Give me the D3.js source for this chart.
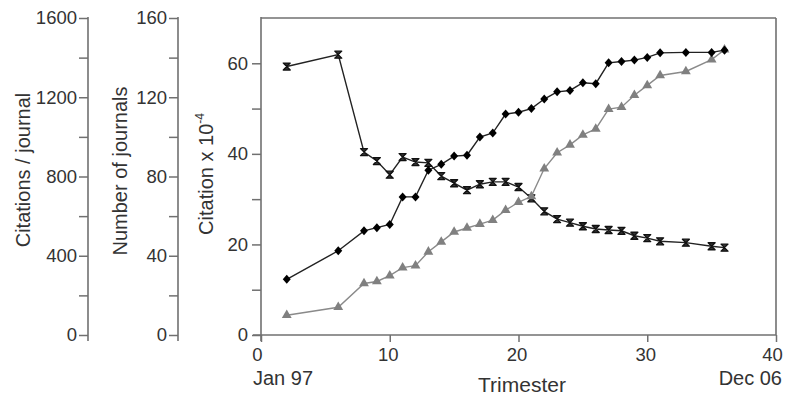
<!DOCTYPE html>
<html>
<head>
<meta charset="utf-8">
<script src="https://cdn.jsdelivr.net/npm/d3@7"></script>
<style>
  body { margin: 0; background: #fff; }
  text { font-family: "Liberation Sans", Arial, sans-serif; fill: #333; }
</style>
</head>
<body>
<div id="chart"></div>
<script>
var width = 785;
var height = 396;

// trimester index, Jan 97 .. Dec 06
var trimesters = [2, 6, 8, 9, 10, 11, 12, 13, 14, 15, 16, 17, 18, 19, 20, 21, 22, 23, 24, 25, 26, 27, 28, 29, 30, 31, 33, 35, 36];
// citation x 10^-4 (diamonds)
var citations = [12.3, 18.6, 23.0, 23.7, 24.4, 30.5, 30.5, 36.4, 37.7, 39.5, 39.7, 43.7, 44.6, 48.8, 49.2, 50.0, 52.1, 53.7, 54.0, 55.7, 55.5, 60.1, 60.4, 60.7, 61.3, 62.3, 62.4, 62.4, 62.9];
// number of journals (triangles)
var journals = [10, 14, 26, 27, 30, 34, 35, 42, 47, 52, 54, 56, 58, 63, 67, 70, 84, 92, 96, 101, 104, 114, 115, 121, 126, 131, 133, 139, 144];
// citations / journal (crosses)
var perJournal = [1355, 1415, 923, 878, 809, 898, 873, 869, 802, 766, 731, 761, 773, 773, 747, 690, 624, 585, 567, 549, 535, 530, 526, 501, 489, 473, 466, 448, 441];

var xTicks = [0, 10, 20, 30, 40];
var citTicks = [0, 10, 20, 30, 40, 50, 60];
var jourTicks = [0, 20, 40, 60, 80, 100, 120, 140, 160];
var cpjTicks = [0, 200, 400, 600, 800, 1000, 1200, 1400, 1600];

var axisColor = "#707070";

var svg = d3.select("#chart")
            .append("svg")
            .attr("width", width)
            .attr("height", height);

var x = d3.scaleLinear().domain([0, 40]).range([261, 776]);
var yCit = d3.scaleLinear().domain([0, 70]).range([335, 18]);
var yJour = d3.scaleLinear().domain([0, 160]).range([335, 18]);
var yCpj = d3.scaleLinear().domain([0, 1600]).range([335, 18]);

function styleAxis(g) {
  g.select(".domain").remove();
  g.selectAll(".tick line").attr("stroke", axisColor).attr("stroke-width", 1.5);
  g.selectAll(".tick text").style("font-size", "18.5px").style("font-family", "Liberation Sans, Arial, sans-serif").attr("fill", "#333");
}

function vline(xp) {
  svg.append("line").attr("x1", xp).attr("x2", xp).attr("y1", 17).attr("y2", 341)
     .attr("stroke", axisColor).attr("stroke-width", 1.6);
}

// left axes
svg.append("g").attr("transform", "translate(88,0)")
   .call(d3.axisLeft(yCpj).tickValues(cpjTicks).tickSize(9).tickPadding(2)
         .tickFormat(function(d){ return d % 400 === 0 ? d : ""; }))
   .call(styleAxis);
vline(88);

svg.append("g").attr("transform", "translate(178,0)")
   .call(d3.axisLeft(yJour).tickValues(jourTicks).tickSize(9).tickPadding(2)
         .tickFormat(function(d){ return d % 40 === 0 ? d : ""; }))
   .call(styleAxis);
vline(178);

svg.append("g").attr("transform", "translate(261,0)")
   .call(d3.axisLeft(yCit).tickValues(citTicks).tickSize(9).tickPadding(4)
         .tickFormat(function(d){ return d % 20 === 0 ? d : ""; }))
   .call(styleAxis);
vline(261);

// x axis
svg.append("g").attr("transform", "translate(0,335)")
   .call(d3.axisBottom(x).tickValues(xTicks).tickSize(7).tickPadding(6))
   .call(styleAxis)
   .selectAll(".tick text")
   .attr("x", function(d){ return (d === 0 || d === 40) ? -4 : -2; });
svg.append("line").attr("x1", 253).attr("x2", 776).attr("y1", 335).attr("y2", 335)
   .attr("stroke", axisColor).attr("stroke-width", 1.6);

// box top and right
svg.append("line").attr("x1", 261).attr("x2", 776).attr("y1", 18).attr("y2", 18)
   .attr("stroke", axisColor).attr("stroke-width", 1.6);
svg.append("line").attr("x1", 776).attr("x2", 776).attr("y1", 18).attr("y2", 335)
   .attr("stroke", axisColor).attr("stroke-width", 1.6);

// axis titles
svg.append("text").attr("transform", "translate(29.5,170) rotate(-90)")
   .attr("text-anchor", "middle").style("font-size", "20px").text("Citations / journal");
svg.append("text").attr("transform", "translate(127,171) rotate(-90)")
   .attr("text-anchor", "middle").style("font-size", "20px").text("Number of journals");
var ct = svg.append("text").attr("transform", "translate(213,174) rotate(-90)")
   .attr("text-anchor", "middle").style("font-size", "20px");
ct.append("tspan").text("Citation x 10");
ct.append("tspan").attr("dy", -9).style("font-size", "12px").text("-4");

svg.append("text").attr("x", 522).attr("y", 392).attr("text-anchor", "middle")
   .style("font-size", "21px").text("Trimester");
svg.append("text").attr("x", 253).attr("y", 385).style("font-size", "20px").text("Jan 97");
svg.append("text").attr("x", 782).attr("y", 385).attr("text-anchor", "end")
   .style("font-size", "20px").text("Dec 06");

// series
function drawLine(vals, yScale, color) {
  var line = d3.line()
               .x(function(d, i){ return x(trimesters[i]); })
               .y(function(d){ return yScale(d); });
  svg.append("path").datum(vals)
     .attr("d", line)
     .attr("fill", "none")
     .attr("stroke", color)
     .attr("stroke-width", 1.4);
}

drawLine(perJournal, yCpj, "#222");
drawLine(journals, yJour, "#8a8a8a");
drawLine(citations, yCit, "#222");

// crosses (bow-tie markers)
svg.selectAll(".cross").data(perJournal).enter()
   .append("path")
   .attr("transform", function(d, i){ return "translate(" + x(trimesters[i]) + "," + yCpj(d) + ")"; })
   .attr("d", "M-3.5,-3.5L3.5,-3.5L-3.5,3.5L3.5,3.5Z")
   .attr("stroke", "#111").attr("stroke-width", 1.3).attr("stroke-linejoin", "round")
   .attr("fill", "#333");

// triangles
svg.selectAll(".tri").data(journals).enter()
   .append("path")
   .attr("transform", function(d, i){ return "translate(" + x(trimesters[i]) + "," + yJour(d) + ")"; })
   .attr("d", d3.symbol().type(d3.symbolTriangle).size(42))
   .attr("fill", "#808080");

// diamonds
svg.selectAll(".dia").data(citations).enter()
   .append("path")
   .attr("transform", function(d, i){ return "translate(" + x(trimesters[i]) + "," + yCit(d) + ")"; })
   .attr("d", "M0,-4.5L4,0L0,4.5L-4,0Z")
   .attr("fill", "#000");
</script>
</body>
</html>
